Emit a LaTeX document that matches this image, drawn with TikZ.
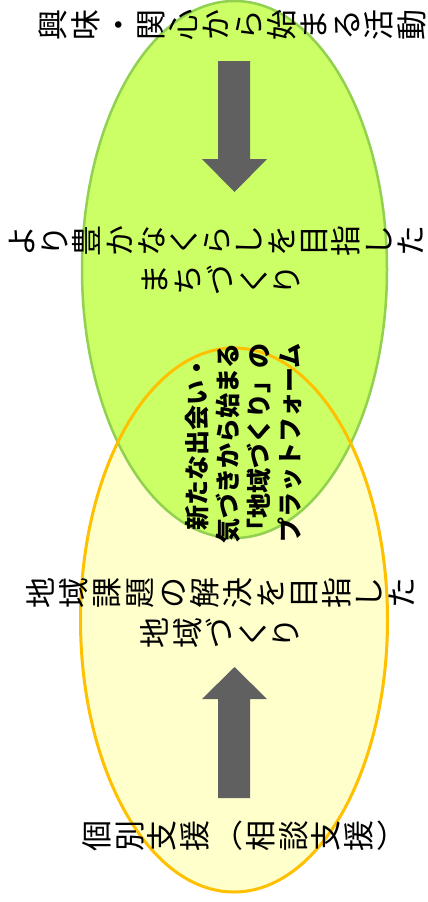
\documentclass[tikz,border=0pt]{standalone}
\usepackage{fontspec}
\newfontfamily\jpfont{Noto Sans CJK JP}

\definecolor{leafgreen}{HTML}{CCFF66}
\definecolor{leafedge}{HTML}{92D050}
\definecolor{creamfill}{HTML}{FFFFCC}
\definecolor{amberedge}{HTML}{FFC000}
\definecolor{arrowgray}{HTML}{606060}

\tikzset{
  jpchar/.style={inner sep=0pt, text height=27.3pt, text depth=3.7pt,
    font=\jpfont\fontsize{31}{31}\selectfont},
  tatechar/.style={jpchar, rotate=90},
  midtext/.style={align=center, inner sep=0pt,
    font=\jpfont\bfseries\fontsize{25}{31}\selectfont},
}

\begin{document}
\begin{tikzpicture}[x=1pt,y=-1pt]
\useasboundingbox (0,0) rectangle (428,902);
\fill[white] (0,0) rectangle (428,902);

% two ellipses
\fill[creamfill] (234,620) ellipse [x radius=153.5, y radius=272];
\filldraw[fill=leafgreen, draw=leafedge, line width=2.5pt] (234.5,269.5) ellipse [x radius=152.5, y radius=268.5];
\draw[amberedge, line width=3pt] (234,620) ellipse [x radius=153.5, y radius=272];

% block arrows
\fill[arrowgray] (218,61) -- (250,61) -- (250,159) -- (267,159) -- (234.5,192) -- (202,159) -- (218,159) -- cycle;
\fill[arrowgray] (218,798) -- (250,798) -- (250,699) -- (267,699) -- (234.5,667) -- (202,699) -- (218,699) -- cycle;

% upper texts
\foreach \c [count=\i] in {興,味,・,関,心,か,ら,始,ま,る,活,動}
  \node[tatechar] (kyomi\i) at ({53+32.6*(\i-1)},25) {\c};
\foreach \c [count=\i] in {よ,り,豊,か,な,く,ら,し,を,目,指,し,た}
  \node[tatechar] (yutaka\i) at ({22+32.4*(\i-1)},241) {\c};
\foreach \c [count=\i] in {ま,ち,づ,く,り}
  \node[tatechar] (machi\i) at ({155+32.8*(\i-1)},280) {\c};

% overlap
\node[midtext, rotate=90] (platform) at (244,443)
  {新たな出会い・\\気づきから始まる\\「地域づくり」の\\プラットフォーム};

% lower texts
\foreach \c [count=\i] in {地,域,課,題,の,解,決,を,目,指,し,た}
  \node[tatechar] (kadai\i) at ({41+32.8*(\i-1)},593) {\c};
\foreach \c [count=\i] in {地,域,づ,く,り}
  \node[tatechar] (chiiki\i) at ({154.5+32.8*(\i-1)},633) {\c};
\foreach \c/\r [count=\i] in {個/90,別/90,支/90,援/90,（/0,相/90,談/90,支/90,援/90,）/0}
  \node[jpchar, rotate=\r] (kobetsu\i) at ({96.5+32.8*(\i-1)},836) {\c};
\end{tikzpicture}
\end{document}
